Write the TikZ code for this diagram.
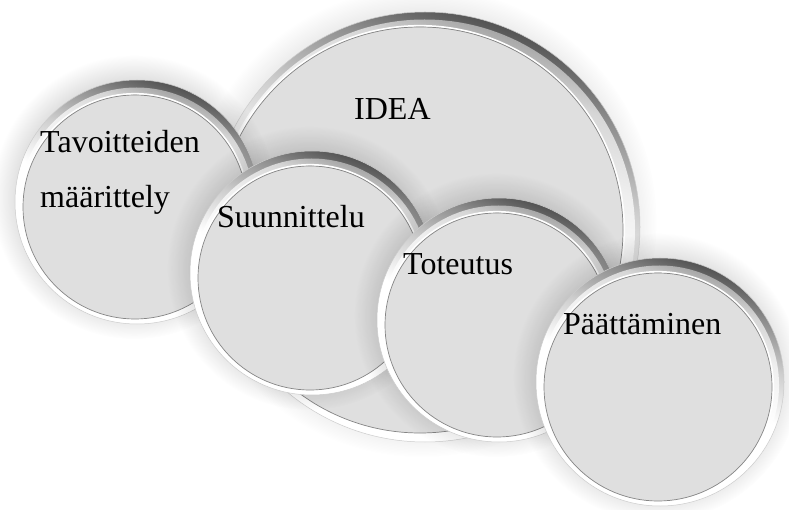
\documentclass[tikz,border=0pt]{standalone}
\usepackage{fontspec}
\setmainfont{Liberation Serif}
\usetikzlibrary{fadings}

% soft round fading used for the glow under each plate
\pgfdeclareradialshading{glowshade}{\pgfpointorigin}{color(0bp)=(white); color(16bp)=(white); color(25bp)=(black); color(50bp)=(black)}
\pgfdeclarefading{glowfade}{\pgfuseshading{glowshade}}

\definecolor{rimA}{HTML}{545454}
\definecolor{rimB}{HTML}{8C8C8C}
\definecolor{rimC}{HTML}{CDCDCD}
\definecolor{bandA}{HTML}{A8A8A8}
\definecolor{bandB}{HTML}{D6D6D6}
\definecolor{bandC}{HTML}{EFEFEF}
\definecolor{facefill}{HTML}{DFDFDF}
\definecolor{faceedge}{HTML}{858585}

% metallic rim: dark only towards the top, white on the lower half
\pgfdeclareverticalshading{rimshade}{100bp}{color(0bp)=(white); color(50bp)=(white); color(60bp)=(rimC); color(69bp)=(rimB); color(75bp)=(rimA); color(100bp)=(rimA)}
\pgfdeclareverticalshading{bandshade}{100bp}{color(0bp)=(white); color(50bp)=(white); color(62bp)=(bandC); color(70bp)=(bandB); color(75bp)=(bandA); color(100bp)=(bandA)}

\tikzset{
  plateface/.style={circle, draw=faceedge, line width=0.7bp,
    fill=facefill, inner sep=0pt},
  lbl/.style={anchor=base west, inner sep=0pt, text=black,
    font=\fontsize{32bp}{38bp}\selectfont},
}

% #1 name, #2 cx, #3 cy, #4 radius, #5 rim width, #6 #7 face offset
\newcommand\discplate[7]{%
  \fill[black, fill opacity=0.24, path fading=glowfade]
    ({#2-3},{#3-5}) circle ({(#4+20)*1bp});
  \shade[shading=rimshade, shading angle=-20] (#2,#3) circle ({(#4)*1bp});
  \shade[shading=bandshade, shading angle=-20] ({#2-0.5},{#3+3}) circle ({(#4-4.5)*1bp});
  \draw[gray!40, line width=0.5bp] (#2,#3) circle ({(#4)*1bp});
  \draw[white, line width=1.8bp] ({#2+#6},{#3+#7}) circle ({(#4-#5+1.2)*1bp});
  \node[plateface, minimum size={2*(#4-#5)*1bp}] (#1) at ({#2+#6},{#3+#7}) {};
}

\begin{document}
\begin{tikzpicture}[x=1bp, y=-1bp]
  \useasboundingbox (0,0) rectangle (789,510);
  \fill[white] (0,0) rectangle (789,510);

  \discplate{idea}{425}{227}{215}{12}{-5}{3}
  \node[lbl] (tIdea) at (354,120) {IDEA};

  \discplate{goals}{137}{202}{122}{10}{-2}{5}
  \node[lbl] (tGoals1) at (40,153) {Tavoitteiden};
  \node[lbl] (tGoals2) at (40,208) {määrittely};

  \discplate{plan}{312}{273}{122}{10}{-2}{5}
  \node[lbl] (tPlan) at (217,228) {Suunnittelu};

  \discplate{impl}{499}{320}{122}{10}{-2}{5}
  \node[lbl] (tImpl) at (403,275) {Toteutus};

  \discplate{close}{660}{382}{124}{10}{-2}{5}
  \node[lbl] (tClose) at (563,334) {Päättäminen};
\end{tikzpicture}
\end{document}
